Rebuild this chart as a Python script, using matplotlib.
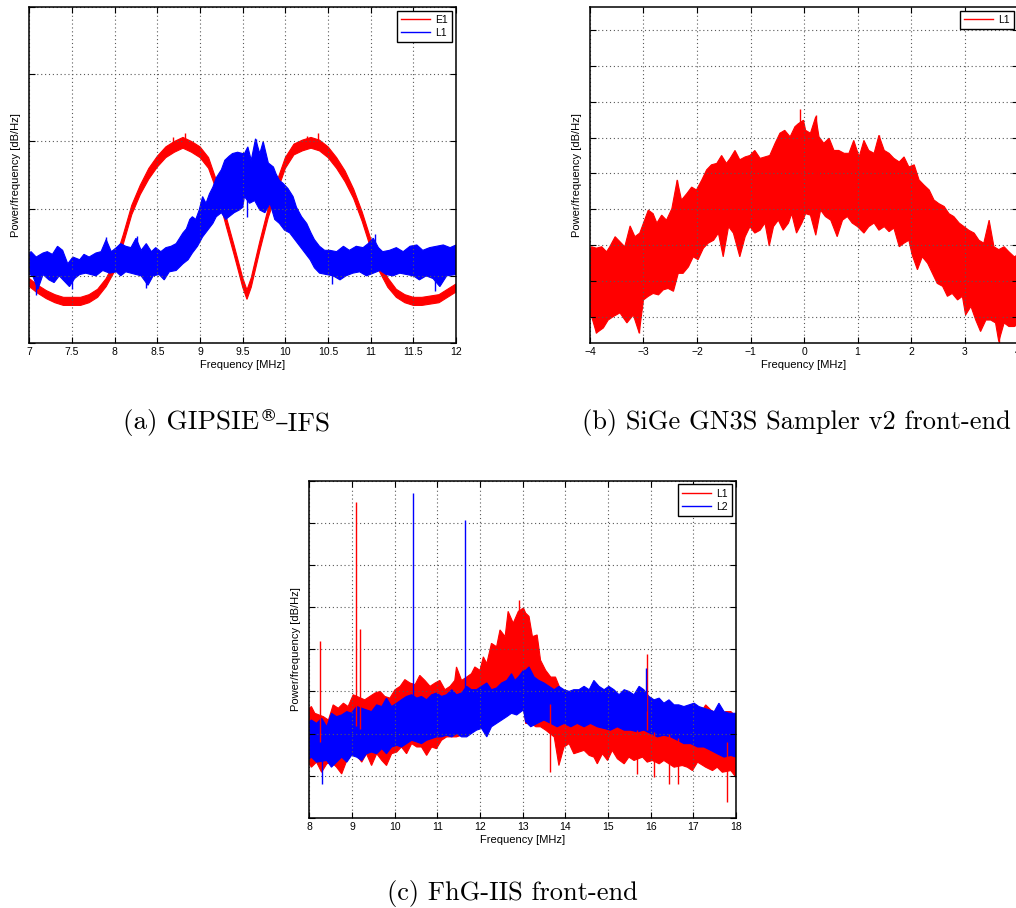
import numpy as np
import matplotlib.pyplot as plt

plt.rcParams['font.family'] = ['Liberation Sans', 'DejaVu Sans']

RED = '#ff0000'
BLUE = '#0000ff'

# ---------------- (a) GIPSIE-IFS : E1 and L1, 7..12 MHz ----------------
e1_f = [7.0, 7.1, 7.2, 7.3, 7.4, 7.5, 7.6, 7.7, 7.8, 7.9, 8.0, 8.1, 8.2, 8.3, 8.4,
        8.5, 8.6, 8.7, 8.8, 8.9, 9.0, 9.1, 9.2, 9.3, 9.4, 9.5, 9.55, 9.6, 9.7, 9.8,
        9.9, 10.0, 10.1, 10.2, 10.3, 10.4, 10.5, 10.6, 10.7, 10.8, 10.9, 11.0, 11.1,
        11.2, 11.3, 11.4, 11.5, 11.6, 11.7, 11.8, 11.9, 12.0]
e1_mid = [-75.5, -76.0, -76.4, -76.7, -76.9, -76.9, -76.9, -76.7, -76.3, -75.5, -74.3,
          -72.3, -70.1, -68.6, -67.4, -66.5, -65.8, -65.4, -65.1, -65.4, -65.8, -66.6,
          -68.4, -70.8, -73.1, -75.5, -76.4, -75.5, -72.8, -70.3, -68.4, -66.6, -65.6,
          -65.3, -65.1, -65.3, -65.8, -66.6, -67.6, -68.9, -70.6, -72.6, -74.3, -75.5,
          -76.3, -76.7, -76.9, -76.9, -76.8, -76.7, -76.3, -75.9]
e1_hw = [0.3] * 10 + [0.35] * 4 + [0.4] * 8 + [0.35] * 8 + [0.4] * 9 + [0.35] * 5 + [0.3] * 8
e1_spk_f = [8.68, 8.82, 10.25, 10.38]
e1_spk_db = [-64.7, -64.4, -64.6, -64.4]

l1a_hi_f = [7.0, 7.02, 7.08, 7.16, 7.21, 7.27, 7.33, 7.39, 7.45, 7.51, 7.59, 7.64, 7.70,
            7.78, 7.84, 7.90, 7.96, 8.02, 8.07, 8.13, 8.19, 8.25, 8.31, 8.37, 8.43, 8.48,
            8.54, 8.60, 8.66, 8.72, 8.76, 8.80, 8.84, 8.88, 8.91, 8.95, 8.99, 9.03, 9.07,
            9.11, 9.15, 9.19, 9.25, 9.29, 9.34, 9.38, 9.44, 9.50,
            9.52, 9.56, 9.60, 9.65, 9.70, 9.74, 9.80, 9.86, 9.89, 9.93, 9.97, 10.03,
            10.09, 10.13, 10.19, 10.25, 10.30, 10.34, 10.40, 10.46, 10.52, 10.60, 10.68,
            10.75, 10.83, 10.91, 10.97, 11.03, 11.09, 11.14, 11.22, 11.30, 11.38, 11.46,
            11.54, 11.61, 11.69, 11.77, 11.85, 11.93, 12.0]
l1a_hi = [-73.3, -73.2, -73.6, -73.3, -73.2, -73.4, -72.8, -73.1, -74.1, -73.6, -73.8,
          -73.4, -73.6, -73.3, -73.2, -72.3, -73.2, -72.9, -72.6, -72.8, -72.9, -72.2,
          -73.1, -72.6, -73.2, -72.9, -73.2, -72.9, -72.8, -72.6, -72.2, -71.8, -71.5,
          -70.8, -70.6, -70.8, -70.1, -69.1, -69.6, -68.9, -68.4, -67.7, -67.1, -66.4,
          -66.1, -65.9, -65.8, -65.9,
          -65.9, -65.4, -66.4, -64.8, -65.9, -65.0, -66.6, -66.9, -67.4, -67.9, -68.1,
          -68.5, -69.1, -69.9, -70.6, -71.1, -71.8, -72.3, -72.8, -73.1, -73.1, -73.2,
          -72.8, -73.1, -72.8, -72.9, -72.6, -72.2, -72.9, -73.2, -73.1, -72.9, -73.2,
          -72.8, -72.7, -73.1, -72.9, -72.8, -72.7, -72.9, -72.7]
l1a_lo_f = [7.0, 7.04, 7.10, 7.16, 7.23, 7.29, 7.35, 7.41, 7.47, 7.53, 7.59, 7.66, 7.72,
            7.78, 7.86, 7.94, 8.02, 8.07, 8.13, 8.19, 8.25, 8.31, 8.39, 8.45, 8.52, 8.58,
            8.64, 8.72, 8.80, 8.86, 8.91, 8.97, 9.03, 9.09, 9.15, 9.19, 9.25, 9.30, 9.34,
            9.40, 9.46, 9.50,
            9.52, 9.58, 9.64, 9.70, 9.76, 9.82, 9.875, 9.93, 9.99, 10.05, 10.11, 10.17,
            10.23, 10.29, 10.34, 10.40, 10.48, 10.56, 10.64, 10.71, 10.79, 10.87, 10.95,
            11.03, 11.11, 11.18, 11.26, 11.34, 11.42, 11.50, 11.57, 11.65, 11.73, 11.81,
            11.89, 12.0]
l1a_lo = [-74.9, -75.0, -76.0, -74.9, -75.3, -75.5, -75.0, -75.4, -75.8, -75.2, -74.9,
          -74.8, -74.9, -75.0, -74.6, -74.8, -74.7, -75.0, -74.7, -74.8, -74.9, -75.0,
          -75.7, -75.0, -74.9, -75.3, -74.7, -74.6, -74.1, -73.8, -73.3, -72.8, -72.1,
          -71.6, -71.1, -70.6, -70.3, -70.8, -70.6, -70.3, -70.1, -69.9,
          -69.1, -69.6, -69.4, -70.1, -70.3, -69.6, -70.8, -71.1, -71.6, -71.8, -72.3,
          -72.8, -73.3, -73.8, -74.4, -74.8, -74.9, -75.0, -75.3, -75.0, -74.8, -74.7,
          -75.0, -74.8, -74.6, -74.9, -75.0, -74.8, -74.9, -75.0, -75.3, -75.0, -75.2,
          -75.8, -75.0, -74.9]
l1a_spk_f = [7.08, 7.50, 8.37, 9.30, 9.55, 10.55, 11.75, 7.90, 8.26, 9.65, 11.05]
l1a_spk_db = [-76.4, -76.0, -75.9, -70.8, -70.6, -75.6, -76.1, -72.1, -72.0, -64.8, -71.9]

# ---------------- (b) SiGe GN3S : L1 at baseband, -4..4 MHz ----------------
lb_hi_f = [-4.0, -3.97, -3.88, -3.78, -3.69, -3.63, -3.53, -3.44, -3.35, -3.25, -3.16,
           -3.07, -3.00, -2.91, -2.82, -2.75, -2.66, -2.57, -2.47, -2.37, -2.29, -2.19,
           -2.10, -2.01, -1.91, -1.82, -1.73, -1.63, -1.54, -1.45, -1.38, -1.29, -1.20,
           -1.10, -1.01, -0.92, -0.82, -0.73, -0.64, -0.54, -0.45, -0.36, -0.26, -0.17,
           -0.11, -0.01,
           0.03, 0.12, 0.22, 0.28, 0.37, 0.47, 0.56, 0.65, 0.75, 0.84, 0.93, 1.03, 1.12,
           1.21, 1.31, 1.40, 1.50, 1.59, 1.68, 1.78, 1.87, 1.96, 2.06, 2.15, 2.24, 2.34,
           2.43, 2.52, 2.62, 2.71, 2.80, 2.90, 2.99, 3.08, 3.18, 3.27, 3.36, 3.46, 3.55,
           3.64, 3.74, 3.83, 3.93, 4.0]
lb_hi = [-70.6, -70.2, -70.4, -70.2, -70.9, -70.2, -68.8, -69.5, -70.2, -67.3, -68.8,
         -68.3, -66.9, -65.1, -65.6, -66.9, -65.8, -66.5, -64.9, -60.9, -63.7, -62.8,
         -61.9, -62.3, -60.9, -59.5, -58.8, -58.6, -57.5, -58.6, -57.9, -56.8, -58.1,
         -57.7, -57.5, -56.8, -57.9, -57.7, -57.5, -55.8, -54.4, -54.0, -54.9, -53.5,
         -53.1, -52.6,
         -54.0, -54.4, -52.1, -54.9, -55.8, -55.1, -56.8, -56.8, -57.2, -57.2, -55.4,
         -57.7, -55.4, -56.8, -57.2, -54.7, -56.8, -57.2, -57.9, -58.4, -57.7, -59.1,
         -58.8, -60.9, -61.6, -62.3, -63.7, -64.2, -64.6, -65.6, -66.0, -66.9, -67.4,
         -67.9, -68.3, -69.3, -69.7, -66.5, -70.2, -70.6, -70.2, -70.9, -71.6, -71.3]
lb_lo_f = [-4.0, -3.97, -3.88, -3.75, -3.66, -3.56, -3.44, -3.31, -3.19, -3.08, -3.00,
           -2.91, -2.82, -2.72, -2.63, -2.54, -2.44, -2.35, -2.26, -2.16, -2.07, -1.98,
           -1.88, -1.79, -1.69, -1.60, -1.51, -1.41, -1.32, -1.20, -1.10, -1.01, -0.92,
           -0.82, -0.73, -0.65, -0.57, -0.48, -0.39, -0.29, -0.23, -0.14, -0.04,
           0.03, 0.12, 0.22, 0.31, 0.40, 0.50, 0.62, 0.72, 0.81, 0.90, 1.00, 1.12, 1.21,
           1.31, 1.40, 1.50, 1.59, 1.68, 1.78, 1.87, 1.96, 2.02, 2.12, 2.21, 2.31, 2.40,
           2.49, 2.59, 2.68, 2.77, 2.87, 2.96, 3.02, 3.12, 3.21, 3.30, 3.40, 3.49, 3.58,
           3.64, 3.74, 3.83, 3.93, 4.0]
lb_lo = [-80.0, -79.9, -82.2, -81.5, -80.4, -79.9, -79.4, -80.8, -79.7, -82.2, -77.6,
         -77.1, -76.7, -76.9, -76.2, -76.0, -76.4, -73.9, -73.9, -73.0, -71.6, -72.0,
         -70.4, -69.7, -69.3, -68.3, -71.6, -67.4, -68.3, -71.6, -68.8, -67.4, -68.3,
         -67.9, -66.9, -70.1, -67.4, -66.5, -67.9, -66.9, -65.6, -68.3, -66.9,
         -65.6, -65.8, -68.6, -65.1, -66.0, -66.5, -68.8, -66.5, -66.0, -66.9, -67.4,
         -68.3, -67.4, -66.9, -67.9, -67.4, -68.1, -67.6, -70.2, -69.7, -69.3, -71.3,
         -73.4, -71.6, -72.5, -73.9, -75.3, -75.7, -77.1, -76.7, -77.6, -77.1, -79.7,
         -78.5, -80.4, -82.0, -80.4, -80.4, -80.8, -83.4, -80.8, -81.3, -81.3, -81.0]
lb_spk_f = [-0.07, 0.22, -3.89, -3.08, 3.65, -2.37, 1.40]
lb_spk_db = [-51.1, -51.9, -82.2, -82.2, -83.6, -60.9, -54.6]

# ---------------- (c) FhG-IIS : L1 and L2, 8..18 MHz ----------------
l1c_hi_f = [8.0, 8.05, 8.13, 8.33, 8.45, 8.56, 8.68, 8.80, 8.91, 9.03, 9.30, 9.42, 9.54,
            9.66, 9.77, 9.89, 10.01, 10.13, 10.24, 10.36, 10.48, 10.59, 10.71, 10.83,
            10.95, 11.06, 11.18, 11.30, 11.41, 11.45, 11.57, 11.69, 11.80, 11.88, 12.00,
            12.08, 12.16, 12.27, 12.39, 12.47, 12.59, 12.66, 12.78, 12.90, 13.02,
            13.07, 13.15, 13.23, 13.34, 13.42, 13.54, 13.66, 13.77, 13.89, 14.01, 14.13,
            14.24, 14.36, 14.48, 14.59, 14.71, 14.83, 14.95, 15.06, 15.18, 15.30, 15.42,
            15.53, 15.65, 15.77, 16.00, 16.12, 16.23, 16.35, 16.47, 16.59, 16.70, 16.82,
            16.94, 17.06, 17.17, 17.29, 17.41, 17.52, 17.64, 17.76, 17.88, 18.0]
l1c_hi = [-77.0, -76.8, -77.6, -78.0, -78.4, -76.6, -77.0, -76.4, -76.8, -75.4, -76.0,
          -75.6, -75.2, -75.0, -75.6, -75.8, -74.8, -74.4, -73.6, -74.0, -74.2, -73.1,
          -73.7, -74.4, -74.0, -73.7, -74.8, -74.4, -73.7, -72.1, -73.7, -73.3, -72.9,
          -72.1, -72.5, -70.9, -71.7, -69.3, -69.7, -67.7, -68.5, -65.5, -66.9, -65.5,
          -65.1,
          -65.7, -66.1, -68.5, -68.3, -71.3, -72.5, -73.3, -73.3, -74.8, -75.2, -75.4,
          -75.4, -76.0, -75.8, -75.2, -75.6, -75.4, -75.8, -76.0, -75.6, -76.2, -76.0,
          -76.2, -76.4, -75.6, -76.0, -76.4, -76.6, -76.8, -76.4, -77.0, -77.4, -77.6,
          -77.8, -77.2, -77.6, -76.6, -77.2, -77.6, -78.0, -77.4, -77.4, -78.0]
l1c_lo_f = [8.0, 8.05, 8.17, 8.29, 8.41, 8.52, 8.64, 8.76, 8.88, 8.99, 9.11, 9.23, 9.34,
            9.46, 9.58, 9.70, 9.81, 9.93, 10.05, 10.16, 10.28, 10.40, 10.52, 10.63, 10.75,
            10.87, 10.98, 11.10, 11.22, 11.34, 11.45, 11.57, 11.69, 11.80, 11.92, 12.04,
            12.16, 12.27, 12.39, 12.51, 12.63, 12.74, 12.86, 13.02,
            13.07, 13.19, 13.31, 13.42, 13.54, 13.74, 13.85, 13.97, 14.09, 14.20, 14.32,
            14.44, 14.56, 14.67, 14.75, 14.87, 14.99, 15.10, 15.22, 15.38, 15.49, 15.61,
            15.81, 15.92, 16.04, 16.20, 16.31, 16.55, 16.74, 16.86, 16.98, 17.10, 17.29,
            17.45, 17.56, 17.68, 17.88, 18.0]
l1c_lo = [-83.6, -84.0, -83.4, -84.6, -83.6, -83.4, -84.0, -84.8, -83.2, -82.4, -82.6,
          -83.4, -82.4, -83.8, -82.4, -83.2, -83.8, -82.4, -82.2, -81.6, -82.4, -81.2,
          -81.6, -81.6, -82.6, -81.6, -81.8, -80.8, -80.4, -80.4, -80.4, -80.2, -80.0,
          -79.2, -79.2, -78.4, -77.6, -76.8, -76.4, -76.4, -76.0, -76.0, -76.0, -76.4,
          -78.8, -78.8, -79.2, -79.2, -79.6, -80.4, -83.8, -81.6, -81.2, -82.4, -82.2,
          -82.0, -82.6, -82.8, -83.6, -82.4, -83.2, -82.0, -83.0, -83.6, -82.8, -83.2,
          -82.8, -83.4, -83.2, -83.6, -83.2, -84.0, -83.8, -84.0, -84.4, -83.4, -84.0,
          -84.4, -84.0, -84.6, -84.4, -85.2]
l1c_spk_f = [8.25, 9.09, 9.20, 12.91, 15.91, 13.63, 15.69, 16.08, 16.43, 16.63, 17.78]
l1c_spk_db = [-69.0, -52.5, -67.6, -64.1, -70.6, -84.6, -84.8, -85.2, -86.0, -86.0, -88.1]

l2c_hi_f = [8.0, 8.05, 8.17, 8.29, 8.41, 8.52, 8.64, 8.76, 8.88, 8.99, 9.11, 9.23, 9.34,
            9.46, 9.58, 9.70, 9.81, 9.93, 10.05, 10.16, 10.28, 10.40, 10.52, 10.63, 10.75,
            10.87, 10.98, 11.10, 11.22, 11.34, 11.45, 11.57, 11.69, 11.80, 11.92, 12.04,
            12.16, 12.27, 12.39, 12.51, 12.63, 12.74, 12.82, 12.90, 13.02,
            13.07, 13.15, 13.27, 13.38, 13.50, 13.62, 13.74, 13.85, 13.97, 14.09, 14.20,
            14.32, 14.44, 14.56, 14.67, 14.79, 14.91, 15.02, 15.14, 15.26, 15.38, 15.49,
            15.61, 15.73, 15.84, 15.96, 16.08, 16.20, 16.31, 16.43, 16.55, 16.66, 16.78,
            16.90, 17.02, 17.13, 17.25, 17.37, 17.49, 17.60, 17.72, 17.84, 18.0]
l2c_hi = [-78.6, -78.4, -78.8, -78.2, -79.2, -77.6, -78.0, -77.8, -77.4, -77.6, -76.8,
          -77.0, -77.2, -77.4, -76.6, -76.8, -75.8, -76.8, -76.4, -76.0, -75.6, -75.4,
          -75.8, -75.6, -76.0, -75.4, -75.2, -75.6, -75.4, -74.8, -75.4, -75.2, -74.4,
          -74.8, -74.8, -74.4, -74.0, -74.8, -74.6, -74.0, -73.7, -72.9, -73.7, -73.3,
          -72.5,
          -72.5, -72.1, -73.3, -73.7, -74.0, -74.4, -74.8, -74.4, -74.8, -75.0, -74.8,
          -74.8, -74.4, -74.8, -73.7, -74.4, -74.8, -74.4, -74.8, -75.4, -74.8, -75.0,
          -75.4, -74.4, -74.8, -75.6, -76.0, -75.8, -76.4, -76.0, -76.6, -76.6, -76.8,
          -76.6, -76.4, -76.8, -77.0, -77.2, -77.4, -76.4, -77.4, -77.6, -77.6]
l2c_lo_f = [8.0, 8.05, 8.17, 8.41, 8.52, 8.64, 8.76, 8.88, 8.99, 9.11, 9.23, 9.34, 9.46,
            9.58, 9.70, 9.81, 9.93, 10.05, 10.16, 10.28, 10.40, 10.52, 10.63, 10.75, 10.87,
            10.98, 11.10, 11.22, 11.34, 11.45, 11.57, 11.69, 11.80, 11.92, 12.04, 12.16,
            12.27, 12.39, 12.51, 12.63, 12.74, 12.86, 13.02,
            13.07, 13.19, 13.34, 13.50, 13.66, 13.81, 13.97, 14.13, 14.28, 14.44, 14.59,
            14.75, 14.91, 15.06, 15.22, 15.38, 15.53, 15.69, 15.84, 16.00, 16.16, 16.31,
            16.47, 16.63, 16.78, 16.94, 17.10, 17.25, 17.41, 17.56, 17.72, 17.88, 18.0]
l2c_lo = [-83.0, -82.8, -83.4, -83.2, -84.0, -83.4, -82.8, -83.4, -82.6, -82.8, -83.2,
          -82.4, -82.2, -82.4, -81.8, -82.4, -81.6, -81.4, -81.6, -81.2, -80.8, -81.0,
          -81.2, -80.8, -80.6, -80.4, -80.4, -80.2, -80.4, -80.0, -80.4, -80.4, -80.0,
          -79.6, -79.4, -80.4, -79.2, -78.8, -78.4, -78.0, -77.6, -77.8, -77.2,
          -78.6, -79.2, -78.8, -78.4, -78.8, -79.2, -78.8, -79.2, -78.8, -79.2, -78.8,
          -79.2, -79.4, -79.6, -79.2, -79.6, -79.6, -79.8, -79.6, -80.0, -80.4, -80.2,
          -80.4, -80.8, -81.2, -81.2, -81.6, -81.6, -82.0, -82.4, -82.8, -82.6, -82.8]
l2c_spk_f = [10.44, 11.65, 15.88, 8.31]
l2c_spk_db = [-51.4, -54.7, -72.2, -86.0]


def spectrum(ax, hi_f, hi, lo_f, lo, spk_f, spk_db, color):
    # band between the upper and lower edge of the periodogram, plus isolated spikes
    xs = np.concatenate([hi_f, lo_f[::-1]])
    ys = np.concatenate([hi, lo[::-1]])
    ax.fill(xs, ys, color=color, lw=0.8)
    base = (np.interp(spk_f, hi_f, hi) + np.interp(spk_f, lo_f, lo)) / 2
    ax.vlines(spk_f, base, spk_db, color=color, lw=1.0)


def style(ax, xlim, xticks, xlabels, ylim, yticks):
    ax.set_xlim(xlim)
    ax.set_ylim(ylim)
    ax.set_xticks(xticks)
    ax.set_xticklabels(xlabels)
    ax.set_yticks(yticks)
    ax.set_yticklabels([])
    ax.tick_params(direction='in', length=4, width=0.8, top=True, right=True,
                   labelsize=7.5, pad=3)
    ax.grid(True, ls=(0, (1, 2.5)), color='0.35', lw=0.8)
    for s in ax.spines.values():
        s.set_linewidth(1.1)
    ax.set_xlabel('Frequency [MHz]', fontsize=8, labelpad=2)
    ax.set_ylabel('Power/frequency [dB/Hz]', fontsize=8, labelpad=3)


def legend(ax, labels, colors):
    for lab, c in zip(labels, colors):
        ax.plot([], [], color=c, lw=1, label=lab)
    leg = ax.legend(loc='upper right', fontsize=7.5, fancybox=False, edgecolor='black',
                    framealpha=1, handlelength=2.8, borderpad=0.4, labelspacing=0.3,
                    borderaxespad=0.35, handletextpad=0.5)
    leg.get_frame().set_linewidth(1.0)


fig = plt.figure(figsize=(10.16, 9.08), dpi=100)

ax_a = fig.add_axes([0.0289, 0.6222, 0.42, 0.370])
e1_hi = np.add(e1_mid, e1_hw)
e1_lo = np.subtract(e1_mid, e1_hw)
spectrum(ax_a, np.array(e1_f), e1_hi, np.array(e1_f), e1_lo, e1_spk_f, e1_spk_db, RED)
spectrum(ax_a, np.array(l1a_hi_f), np.array(l1a_hi), np.array(l1a_lo_f), np.array(l1a_lo),
         l1a_spk_f, l1a_spk_db, BLUE)
xa = np.arange(7, 12.01, 0.5)
style(ax_a, (7, 12), xa, ['%g' % v for v in xa], (-80, -55), np.arange(-80, -54, 5))
legend(ax_a, ['E1', 'L1'], [RED, BLUE])

ax_b = fig.add_axes([0.5807, 0.6222, 0.4213, 0.370])
spectrum(ax_b, np.array(lb_hi_f), np.array(lb_hi), np.array(lb_lo_f), np.array(lb_lo),
         lb_spk_f, lb_spk_db, RED)
xb = np.arange(-4, 5)
style(ax_b, (-4, 4), xb, ['\u2212%d' % -v if v < 0 else '%d' % v for v in xb],
      (-83.6, -36.85), np.arange(-80, -39, 5))
legend(ax_b, ['L1'], [RED])

ax_c = fig.add_axes([0.3044, 0.0994, 0.42, 0.3711])
spectrum(ax_c, np.array(l1c_hi_f), np.array(l1c_hi), np.array(l1c_lo_f), np.array(l1c_lo),
         l1c_spk_f, l1c_spk_db, RED)
spectrum(ax_c, np.array(l2c_hi_f), np.array(l2c_hi), np.array(l2c_lo_f), np.array(l2c_lo),
         l2c_spk_f, l2c_spk_db, BLUE)
xc = np.arange(8, 19)
style(ax_c, (8, 18), xc, ['%d' % v for v in xc], (-90, -50), np.arange(-90, -49, 5))
legend(ax_c, ['L1', 'L2'], [RED, BLUE])

# sub-figure captions, Computer Modern like LaTeX
cap_ax = fig.add_axes([0, 0, 1, 1])
cap_ax.axis('off')
serif = ['cmr10', 'DejaVu Serif']
t1 = cap_ax.text(0.2549, 0.5275, '(a) GIPSIE', fontsize=19.5, family=serif,
                 ha='right', va='baseline', transform=fig.transFigure)
cap_ax.annotate('\u00ae', xy=(1, 0), xycoords=t1, xytext=(0.5, 8), textcoords='offset points',
                fontsize=12.5, family=['DejaVu Serif'], ha='left', va='bottom')
cap_ax.annotate('\u2013IFS', xy=(1, 0), xycoords=t1, xytext=(11.5, 0),
                textcoords='offset points', fontsize=19.5, family=serif, ha='left', va='bottom')
cap_ax.text(0.7835, 0.5275, '(b) SiGe GN3S Sampler v2 front-end', fontsize=19, family=serif,
            ha='center', va='baseline', transform=fig.transFigure)
cap_ax.text(0.504, 0.0088, '(c) FhG-IIS front-end', fontsize=19, family=serif,
            ha='center', va='baseline', transform=fig.transFigure)

fig.savefig('out.png', dpi=100)
